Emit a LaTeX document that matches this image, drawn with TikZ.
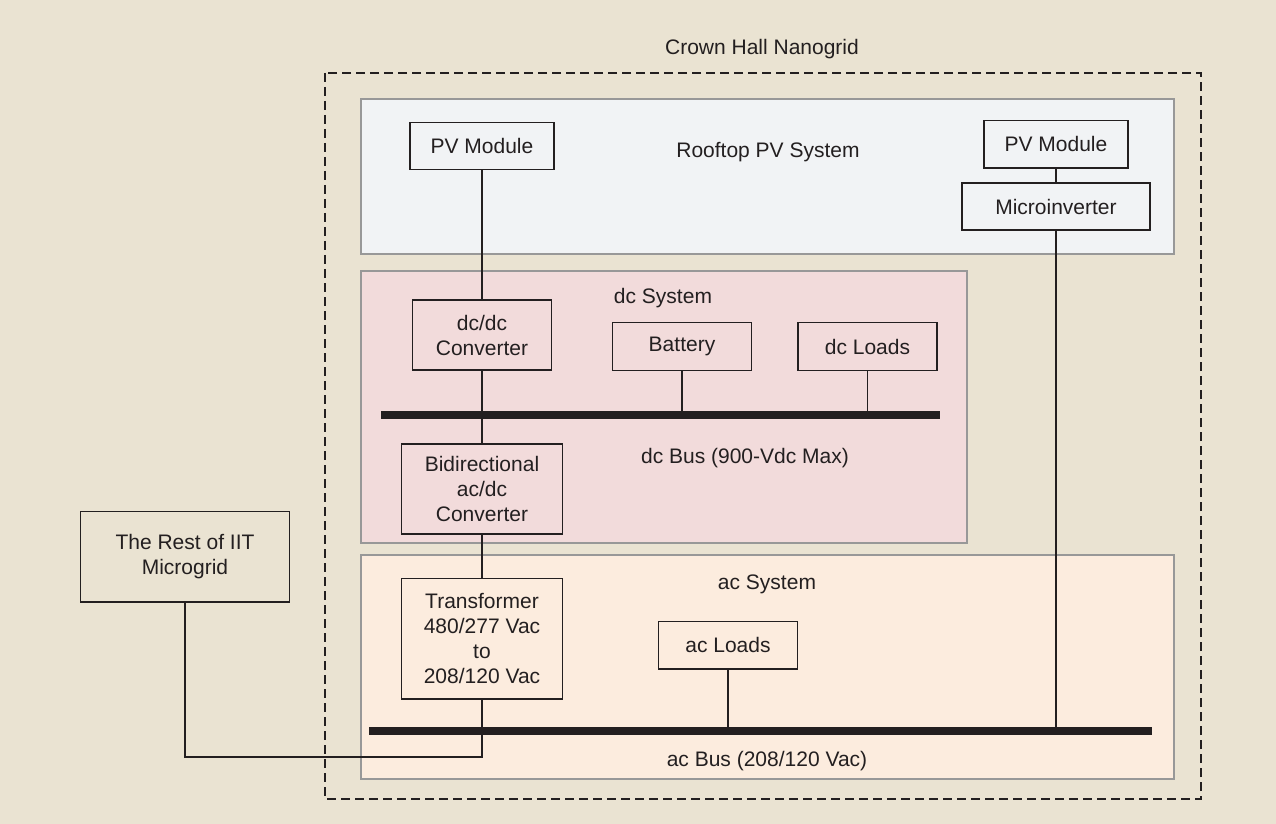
\documentclass[tikz,border=0pt]{standalone}
\usepackage{fontspec}
\setmainfont{Liberation Sans}
\usepackage{tikz}
\usetikzlibrary{positioning}

\definecolor{paper}{RGB}{234,227,210}
\definecolor{roofblue}{RGB}{241,243,245}
\definecolor{dcpink}{RGB}{242,219,219}
\definecolor{acpeach}{RGB}{252,236,222}
\definecolor{framegray}{RGB}{152,152,152}
\definecolor{ink}{RGB}{35,31,32}

\begin{document}
\begin{tikzpicture}[x=0.5pt,y=-0.5pt,
  txt/.style={font=\fontsize{10.5}{12.5}\selectfont,text=ink,align=center},
  unit/.style={txt,rectangle,draw=ink,line width=0.75pt,inner sep=0pt},
  area/.style={draw=framegray,line width=1pt},
  bus/.style={draw=ink,line width=4pt},
  wire/.style={draw=ink,line width=0.75pt}]
\fill[paper] (0,0) rectangle (1276,824);
\draw[ink,line width=0.75pt,dash pattern=on 4.5pt off 2.5pt] (325,73) rectangle (1201,799);
\draw[area,fill=roofblue] (361,99) rectangle (1174,254);
\draw[area,fill=dcpink] (361,271) rectangle (967,543);
\draw[area,fill=acpeach] (361,555) rectangle (1174,779);
\node[txt](nano) at (762,49){Crown Hall Nanogrid};
\node[txt](rooftop) at (768,152){Rooftop PV System};
\node[txt](dcsys) at (663,298){dc System};
\node[txt](dcbuslbl) at (745,458){dc Bus (900-Vdc Max)};
\node[txt](acsys) at (767,584){ac System};
\node[txt](acbuslbl) at (767,761){ac Bus (208/120 Vac)};
\node[unit,minimum width=72pt,minimum height=23.7pt](pv1) at (482,146){PV Module};
\node[unit,minimum width=94pt,minimum height=23.7pt](micro) at (1056,206.5){Microinverter};
\node[unit,minimum width=72pt,minimum height=23.7pt,above=6.7pt of micro](pv2){PV Module};
\node[unit,minimum width=69.5pt,minimum height=35pt](dcdc) at (482,335){dc/dc\\Converter};
\node[unit,minimum width=69.3pt,minimum height=23.8pt](batt) at (682,346.5){Battery};
\node[unit,minimum width=69.3pt,minimum height=23.8pt,right=22.7pt of batt](dcload){dc Loads};
\node[unit,minimum width=80.3pt,minimum height=45.2pt](bidir) at (482,489){Bidirectional\\ac/dc\\Converter};
\node[unit,minimum width=80.3pt,minimum height=60.3pt,below=21.3pt of bidir](trans){Transformer\\480/277 Vac\\to\\208/120 Vac};
\node[unit,minimum width=69.3pt,minimum height=23.7pt](acload) at (728,645.3){ac Loads};
\node[unit,minimum width=104.5pt,minimum height=45.3pt](rest) at (185,556.7){The Rest of IIT\\Microgrid};
\coordinate (dcbusW) at (381,415);
\coordinate (dcbusE) at (940,415);
\coordinate (acbusW) at (369,731);
\coordinate (acbusE) at (1152,731);
\coordinate (tie) at (482,757);
\draw[wire] (pv1) -- (dcdc);
\draw[wire] (pv2) -- (micro);
\draw[wire] (dcdc) -- (bidir);
\draw[wire] (batt) -- (batt |- dcbusW);
\draw[wire] (dcload) -- (dcload |- dcbusW);
\draw[wire] (bidir) -- (trans);
\draw[wire] (micro) -- (micro |- acbusW);
\draw[wire] (acload) -- (acload |- acbusW);
\draw[wire] (rest) |- (tie) -- (trans);
\draw[bus] (dcbusW) -- (dcbusE);
\draw[bus] (acbusW) -- (acbusE);
\end{tikzpicture}
\end{document}
